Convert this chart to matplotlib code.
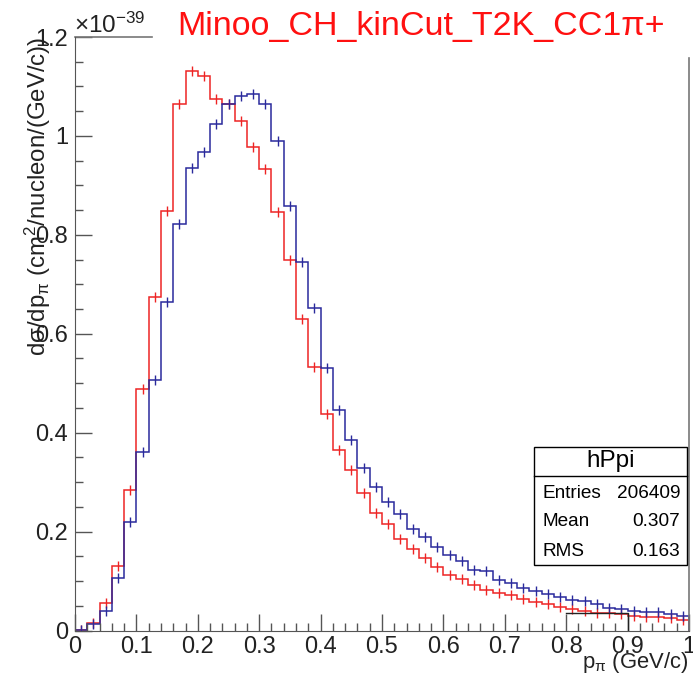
import numpy as np
import matplotlib
matplotlib.use('Agg')
import matplotlib.pyplot as plt
from matplotlib.patches import Rectangle
from matplotlib.transforms import blended_transform_factory

plt.rcParams['font.family'] = ['Liberation Sans', 'DejaVu Sans']
plt.rcParams['mathtext.fontset'] = 'custom'
plt.rcParams['mathtext.rm'] = 'Liberation Sans'
plt.rcParams['mathtext.it'] = 'Liberation Sans:italic'

# histogram: 50 bins of 0.02 GeV/c, values in units of 1e-39
bin_edges = np.linspace(0, 1, 51)
red_vals = [0.002, 0.015, 0.056, 0.130, 0.284, 0.489, 0.675, 0.849, 1.064, 1.131,
            1.121, 1.075, 1.064, 1.030, 0.978, 0.934, 0.847, 0.749, 0.630, 0.532,
            0.438, 0.365, 0.325, 0.279, 0.237, 0.215, 0.184, 0.164, 0.146, 0.129,
            0.112, 0.104, 0.092, 0.082, 0.075, 0.072, 0.063, 0.058, 0.053, 0.047,
            0.043, 0.040, 0.036, 0.035, 0.033, 0.029, 0.027, 0.027, 0.025, 0.021]
blue_vals = [0.001, 0.013, 0.039, 0.106, 0.220, 0.360, 0.506, 0.665, 0.822, 0.935,
             0.968, 1.024, 1.064, 1.081, 1.084, 1.065, 0.990, 0.859, 0.746, 0.653,
             0.530, 0.446, 0.386, 0.328, 0.290, 0.260, 0.235, 0.206, 0.189, 0.169,
             0.152, 0.140, 0.122, 0.120, 0.103, 0.097, 0.086, 0.080, 0.074, 0.068,
             0.062, 0.060, 0.053, 0.045, 0.043, 0.040, 0.038, 0.037, 0.033, 0.029]
x_ticks = [0, 0.1, 0.2, 0.3, 0.4, 0.5, 0.6, 0.7, 0.8, 0.9, 1]
x_ticklabels = ['0', '0.1', '0.2', '0.3', '0.4', '0.5', '0.6', '0.7', '0.8', '0.9', '1']
y_ticks = [0, 0.2, 0.4, 0.6, 0.8, 1.0, 1.2]
y_ticklabels = ['0', '0.2', '0.4', '0.6', '0.8', '1', '1.2']
stats = [('Entries', '206409'), ('Mean', '0.307'), ('RMS', '0.163')]

red = '#ee2424'
blue = '#2a2a9c'
axc = '#555555'
txt = '#222222'

fig = plt.figure(figsize=(6.93, 6.88), dpi=100)
ax = fig.add_axes([75/693, 1 - 630.5/688, 614/693, 593.5/688])

centers = 0.5 * (bin_edges[:-1] + bin_edges[1:])
for vals, c in [(red_vals, red), (blue_vals, blue)]:
    ax.stairs(vals, bin_edges, color=c, lw=1.1)
    ax.plot(centers, vals, ls='none', marker='|', ms=7, mew=1.0, color=c)

ax.set_xlim(0, 1)
ax.set_ylim(0, 1.2)
ax.set_xticks(x_ticks)
ax.set_xticklabels(x_ticklabels)
ax.set_xticks(np.arange(0, 1.001, 0.02), minor=True)
ax.set_yticks(y_ticks)
ax.set_yticklabels(y_ticklabels)
ax.set_yticks(np.arange(0, 1.201, 0.05), minor=True)
ax.tick_params(which='both', direction='in', color=axc, labelsize=17, labelcolor=txt,
               top=False, right=False)
ax.tick_params(which='major', length=12, width=1)
ax.tick_params(which='minor', length=6, width=1)
ax.tick_params(axis='x', pad=4)
ax.tick_params(axis='y', pad=5)

for s in ['left', 'bottom']:
    ax.spines[s].set_color(axc)
for s in ['top', 'right']:
    ax.spines[s].set_visible(False)
# frame parts not hidden by the title box
ax.plot([0, 0.125], [1, 1], transform=ax.transAxes, color='#777777', lw=1.2, clip_on=False)
ax.plot([1, 1], [0, 0.9646], transform=ax.transAxes, color='#777777', lw=1.2, clip_on=False)

# leftover line between 0.8 and 0.9 at the bottom
tr = blended_transform_factory(ax.transData, ax.transAxes)
ax.plot([0.8, 0.9, 0.9], [0.0287, 0.0287, 0], transform=tr, color='#222222', lw=1.0)

fig.text(74/693, 1 - 33/688, r'$\times10^{-39}$', fontsize=17.5, ha='left', va='baseline', color=txt)
fig.text(421/693, 1 - 26/688, 'Minoo_CH_kinCut_T2K_CC1π+', fontsize=24.5, color='#ff1010',
         ha='center', va='center')

fig.text(38/693, 1 - 37/688, r'dσ/dp$_{\mathrm{π}}$ (cm$^{2}$/nucleon/(GeV/c))', rotation=90,
         fontsize=17.3, ha='center', va='top', color=txt)
fig.text(688/693, 1 - 668/688, r'p$_{\mathrm{π}}$ (GeV/c)', fontsize=15.8, ha='right',
         va='baseline', color=txt)

# stat box
bx0, bx1, by0, by1, bsep = 534, 687, 447, 565, 476
fig.patches.append(Rectangle((bx0/693, 1 - by1/688), (bx1 - bx0)/693, (by1 - by0)/688,
                             transform=fig.transFigure, facecolor='white', edgecolor='black',
                             lw=1.0, zorder=5))
fig.lines.append(plt.Line2D([bx0/693, bx1/693], [1 - bsep/688, 1 - bsep/688],
                            transform=fig.transFigure, color='black', lw=1.0, zorder=6))
fig.text((bx0 + bx1)/2/693, 1 - 461/688, 'hPpi', fontsize=17.5, ha='center', va='center', zorder=7)
for i, (k, v) in enumerate(stats):
    yy = 1 - (493 + 29*i)/688
    fig.text(542/693, yy, k, fontsize=13.7, ha='left', va='center', zorder=7)
    fig.text(680/693, yy, v, fontsize=13.7, ha='right', va='center', zorder=7)

fig.savefig('out.png', dpi=100)
